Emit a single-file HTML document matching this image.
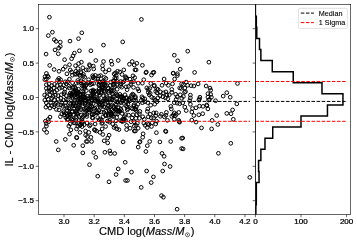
<!DOCTYPE html>
<html><head><meta charset="utf-8"><style>
html,body{margin:0;padding:0;background:#fff;}
svg{display:block;will-change:transform;}
text{font-family:"Liberation Sans",sans-serif;}
.lab{stroke:#000;stroke-width:0.15;}
</style></head><body>
<svg width="357" height="243" viewBox="0 0 357 243">
<rect width="357" height="243" fill="#fff"/>
<defs><clipPath id="cm"><rect x="38.5" y="4.5" width="216.9" height="209.9"/></clipPath>
<clipPath id="ch"><rect x="255.4" y="4.5" width="95.29999999999998" height="209.9"/></clipPath></defs>
<g clip-path="url(#cm)" fill="none" stroke="#000" stroke-width="1.0"><circle cx="49.4" cy="17.2" r="1.85"/><circle cx="52.4" cy="32.2" r="1.85"/><circle cx="48.3" cy="35.6" r="1.85"/><circle cx="54.3" cy="39.6" r="1.85"/><circle cx="56.1" cy="41.4" r="1.85"/><circle cx="60.3" cy="42.1" r="1.85"/><circle cx="70.0" cy="41.1" r="1.85"/><circle cx="78.5" cy="38.7" r="1.85"/><circle cx="81.8" cy="32.8" r="1.85"/><circle cx="60.3" cy="46.4" r="1.85"/><circle cx="58.7" cy="48.1" r="1.85"/><circle cx="55.0" cy="49.9" r="1.85"/><circle cx="79.4" cy="50.8" r="1.85"/><circle cx="90.9" cy="50.8" r="1.85"/><circle cx="141.4" cy="19.4" r="1.85"/><circle cx="122.7" cy="41.9" r="1.85"/><circle cx="103.5" cy="45.1" r="1.85"/><circle cx="187.7" cy="51.2" r="1.85"/><circle cx="46.1" cy="54.1" r="1.85"/><circle cx="58.3" cy="53.8" r="1.85"/><circle cx="64.6" cy="59.7" r="1.85"/><circle cx="71.6" cy="58.7" r="1.85"/><circle cx="73.0" cy="55.9" r="1.85"/><circle cx="74.4" cy="53.1" r="1.85"/><circle cx="69.5" cy="64.7" r="1.85"/><circle cx="65.3" cy="66.7" r="1.85"/><circle cx="63.2" cy="69.2" r="1.85"/><circle cx="59.0" cy="71.3" r="1.85"/><circle cx="54.1" cy="69.5" r="1.85"/><circle cx="46.4" cy="73.4" r="1.85"/><circle cx="70.2" cy="69.9" r="1.85"/><circle cx="75.5" cy="65.7" r="1.85"/><circle cx="78.6" cy="63.6" r="1.85"/><circle cx="81.4" cy="62.2" r="1.85"/><circle cx="77.9" cy="68.5" r="1.85"/><circle cx="82.8" cy="67.8" r="1.85"/><circle cx="86.3" cy="69.9" r="1.85"/><circle cx="71.6" cy="72.0" r="1.85"/><circle cx="75.8" cy="71.3" r="1.85"/><circle cx="95.8" cy="60.5" r="1.85"/><circle cx="103.5" cy="61.5" r="1.85"/><circle cx="111.2" cy="61.1" r="1.85"/><circle cx="111.9" cy="64.3" r="1.85"/><circle cx="118.2" cy="60.5" r="1.85"/><circle cx="89.9" cy="65.7" r="1.85"/><circle cx="93.3" cy="66.1" r="1.85"/><circle cx="93.7" cy="68.9" r="1.85"/><circle cx="88.5" cy="69.9" r="1.85"/><circle cx="102.5" cy="65.7" r="1.85"/><circle cx="102.8" cy="69.2" r="1.85"/><circle cx="129.4" cy="64.3" r="1.85"/><circle cx="132.2" cy="61.5" r="1.85"/><circle cx="134.3" cy="65.0" r="1.85"/><circle cx="109.1" cy="69.9" r="1.85"/><circle cx="117.5" cy="71.3" r="1.85"/><circle cx="123.8" cy="69.9" r="1.85"/><circle cx="135.0" cy="69.9" r="1.85"/><circle cx="174.3" cy="55.2" r="1.85"/><circle cx="177.7" cy="60.8" r="1.85"/><circle cx="180.2" cy="69.2" r="1.85"/><circle cx="173.2" cy="73.1" r="1.85"/><circle cx="136.8" cy="63.3" r="1.85"/><circle cx="142.4" cy="65.3" r="1.85"/><circle cx="136.1" cy="69.9" r="1.85"/><circle cx="146.3" cy="72.0" r="1.85"/><circle cx="153.9" cy="72.3" r="1.85"/><circle cx="177.4" cy="73.7" r="1.85"/><circle cx="208.9" cy="62.2" r="1.85"/><circle cx="194.6" cy="72.4" r="1.85"/><circle cx="186.2" cy="82.1" r="1.85"/><circle cx="183.4" cy="84.6" r="1.85"/><circle cx="187.6" cy="85.3" r="1.85"/><circle cx="184.8" cy="88.1" r="1.85"/><circle cx="185.5" cy="91.6" r="1.85"/><circle cx="184.5" cy="92.3" r="1.85"/><circle cx="193.9" cy="86.0" r="1.85"/><circle cx="198.1" cy="83.9" r="1.85"/><circle cx="191.1" cy="85.7" r="1.85"/><circle cx="206.1" cy="86.0" r="1.85"/><circle cx="210.0" cy="88.1" r="1.85"/><circle cx="210.7" cy="90.2" r="1.85"/><circle cx="207.9" cy="93.7" r="1.85"/><circle cx="210.7" cy="94.4" r="1.85"/><circle cx="207.9" cy="97.2" r="1.85"/><circle cx="211.4" cy="97.2" r="1.85"/><circle cx="190.4" cy="95.1" r="1.85"/><circle cx="190.4" cy="97.9" r="1.85"/><circle cx="199.9" cy="97.2" r="1.85"/><circle cx="199.5" cy="98.9" r="1.85"/><circle cx="215.6" cy="100.7" r="1.85"/><circle cx="226.8" cy="92.7" r="1.85"/><circle cx="223.2" cy="96.1" r="1.85"/><circle cx="230.2" cy="97.2" r="1.85"/><circle cx="183.4" cy="96.5" r="1.85"/><circle cx="237.5" cy="83.5" r="1.85"/><circle cx="189.7" cy="100.8" r="1.85"/><circle cx="198.8" cy="100.1" r="1.85"/><circle cx="208.6" cy="100.1" r="1.85"/><circle cx="182.7" cy="102.9" r="1.85"/><circle cx="184.8" cy="107.1" r="1.85"/><circle cx="186.2" cy="110.6" r="1.85"/><circle cx="192.5" cy="108.5" r="1.85"/><circle cx="196.0" cy="107.8" r="1.85"/><circle cx="191.8" cy="112.0" r="1.85"/><circle cx="193.9" cy="115.5" r="1.85"/><circle cx="198.8" cy="114.8" r="1.85"/><circle cx="202.7" cy="113.7" r="1.85"/><circle cx="203.0" cy="106.4" r="1.85"/><circle cx="206.9" cy="105.7" r="1.85"/><circle cx="207.9" cy="108.9" r="1.85"/><circle cx="199.5" cy="106.1" r="1.85"/><circle cx="190.4" cy="104.3" r="1.85"/><circle cx="216.7" cy="115.5" r="1.85"/><circle cx="226.8" cy="113.4" r="1.85"/><circle cx="231.0" cy="113.7" r="1.85"/><circle cx="191.8" cy="120.1" r="1.85"/><circle cx="196.0" cy="122.1" r="1.85"/><circle cx="212.1" cy="120.4" r="1.85"/><circle cx="217.8" cy="124.5" r="1.85"/><circle cx="201.5" cy="127.9" r="1.85"/><circle cx="211.6" cy="128.9" r="1.85"/><circle cx="236.8" cy="103.9" r="1.85"/><circle cx="232.6" cy="109.9" r="1.85"/><circle cx="233.3" cy="119.3" r="1.85"/><circle cx="206.7" cy="105.0" r="1.85"/><circle cx="209.5" cy="99.4" r="1.85"/><circle cx="182.7" cy="138.0" r="1.85"/><circle cx="183.1" cy="148.9" r="1.85"/><circle cx="230.8" cy="143.3" r="1.85"/><circle cx="218.4" cy="153.3" r="1.85"/><circle cx="249.8" cy="177.4" r="1.85"/><circle cx="46.4" cy="126.1" r="1.85"/><circle cx="44.3" cy="129.6" r="1.85"/><circle cx="46.7" cy="132.4" r="1.85"/><circle cx="68.8" cy="126.1" r="1.85"/><circle cx="70.9" cy="129.9" r="1.85"/><circle cx="69.5" cy="134.1" r="1.85"/><circle cx="65.3" cy="139.4" r="1.85"/><circle cx="56.2" cy="141.5" r="1.85"/><circle cx="58.3" cy="149.9" r="1.85"/><circle cx="73.7" cy="145.3" r="1.85"/><circle cx="76.5" cy="137.3" r="1.85"/><circle cx="76.8" cy="137.8" r="1.85"/><circle cx="76.5" cy="128.9" r="1.85"/><circle cx="80.0" cy="132.4" r="1.85"/><circle cx="80.0" cy="125.4" r="1.85"/><circle cx="84.2" cy="124.7" r="1.85"/><circle cx="85.6" cy="131.0" r="1.85"/><circle cx="85.6" cy="135.2" r="1.85"/><circle cx="86.3" cy="141.5" r="1.85"/><circle cx="82.8" cy="145.7" r="1.85"/><circle cx="82.8" cy="152.9" r="1.85"/><circle cx="70.2" cy="124.0" r="1.85"/><circle cx="94.4" cy="129.6" r="1.85"/><circle cx="94.9" cy="130.2" r="1.85"/><circle cx="96.5" cy="131.0" r="1.85"/><circle cx="100.0" cy="132.4" r="1.85"/><circle cx="102.1" cy="128.9" r="1.85"/><circle cx="105.6" cy="126.5" r="1.85"/><circle cx="102.8" cy="134.5" r="1.85"/><circle cx="88.8" cy="132.4" r="1.85"/><circle cx="90.9" cy="137.3" r="1.85"/><circle cx="91.6" cy="141.5" r="1.85"/><circle cx="87.4" cy="136.6" r="1.85"/><circle cx="87.4" cy="141.5" r="1.85"/><circle cx="109.1" cy="135.2" r="1.85"/><circle cx="107.7" cy="138.0" r="1.85"/><circle cx="104.2" cy="140.8" r="1.85"/><circle cx="107.7" cy="142.9" r="1.85"/><circle cx="114.0" cy="127.5" r="1.85"/><circle cx="116.8" cy="128.9" r="1.85"/><circle cx="118.9" cy="129.6" r="1.85"/><circle cx="115.4" cy="126.1" r="1.85"/><circle cx="123.1" cy="141.9" r="1.85"/><circle cx="126.6" cy="125.4" r="1.85"/><circle cx="126.6" cy="129.6" r="1.85"/><circle cx="130.1" cy="128.2" r="1.85"/><circle cx="134.3" cy="126.1" r="1.85"/><circle cx="134.3" cy="131.0" r="1.85"/><circle cx="95.1" cy="124.0" r="1.85"/><circle cx="136.1" cy="125.4" r="1.85"/><circle cx="138.2" cy="128.2" r="1.85"/><circle cx="135.4" cy="131.0" r="1.85"/><circle cx="145.2" cy="125.4" r="1.85"/><circle cx="147.3" cy="127.5" r="1.85"/><circle cx="151.5" cy="126.5" r="1.85"/><circle cx="148.7" cy="124.7" r="1.85"/><circle cx="155.7" cy="124.0" r="1.85"/><circle cx="143.1" cy="133.8" r="1.85"/><circle cx="142.7" cy="137.3" r="1.85"/><circle cx="139.6" cy="142.2" r="1.85"/><circle cx="140.1" cy="141.6" r="1.85"/><circle cx="138.2" cy="147.1" r="1.85"/><circle cx="147.3" cy="145.7" r="1.85"/><circle cx="149.7" cy="141.5" r="1.85"/><circle cx="156.4" cy="132.7" r="1.85"/><circle cx="165.5" cy="131.0" r="1.85"/><circle cx="165.9" cy="131.6" r="1.85"/><circle cx="159.9" cy="141.9" r="1.85"/><circle cx="170.7" cy="141.5" r="1.85"/><circle cx="181.6" cy="138.3" r="1.85"/><circle cx="181.6" cy="148.5" r="1.85"/><circle cx="93.7" cy="152.5" r="1.85"/><circle cx="104.9" cy="152.3" r="1.85"/><circle cx="109.8" cy="150.9" r="1.85"/><circle cx="114.7" cy="153.5" r="1.85"/><circle cx="95.8" cy="157.3" r="1.85"/><circle cx="89.5" cy="164.7" r="1.85"/><circle cx="110.5" cy="153.5" r="1.85"/><circle cx="125.2" cy="162.3" r="1.85"/><circle cx="118.2" cy="168.9" r="1.85"/><circle cx="116.1" cy="174.5" r="1.85"/><circle cx="97.7" cy="176.2" r="1.85"/><circle cx="131.5" cy="172.1" r="1.85"/><circle cx="125.6" cy="180.5" r="1.85"/><circle cx="127.4" cy="180.5" r="1.85"/><circle cx="145.9" cy="151.5" r="1.85"/><circle cx="162.0" cy="153.4" r="1.85"/><circle cx="164.1" cy="156.3" r="1.85"/><circle cx="164.5" cy="164.0" r="1.85"/><circle cx="170.1" cy="166.5" r="1.85"/><circle cx="146.6" cy="171.0" r="1.85"/><circle cx="162.7" cy="171.0" r="1.85"/><circle cx="153.4" cy="176.9" r="1.85"/><circle cx="109.0" cy="181.8" r="1.85"/><circle cx="141.2" cy="187.4" r="1.85"/><circle cx="151.2" cy="182.6" r="1.85"/><circle cx="161.5" cy="195.6" r="1.85"/><circle cx="163.4" cy="197.2" r="1.85"/><circle cx="177.1" cy="209.2" r="1.85"/><circle cx="145.9" cy="72.7" r="1.85"/><circle cx="151.5" cy="75.1" r="1.85"/><circle cx="152.9" cy="72.7" r="1.85"/><circle cx="173.2" cy="73.4" r="1.85"/><circle cx="177.4" cy="75.5" r="1.85"/><circle cx="174.6" cy="79.0" r="1.85"/><circle cx="164.1" cy="79.0" r="1.85"/><circle cx="134.7" cy="77.6" r="1.85"/><circle cx="143.8" cy="79.7" r="1.85"/><circle cx="142.4" cy="83.2" r="1.85"/><circle cx="138.2" cy="83.2" r="1.85"/><circle cx="150.8" cy="83.5" r="1.85"/><circle cx="154.3" cy="85.3" r="1.85"/><circle cx="162.0" cy="85.3" r="1.85"/><circle cx="166.2" cy="83.2" r="1.85"/><circle cx="168.3" cy="85.3" r="1.85"/><circle cx="172.5" cy="83.9" r="1.85"/><circle cx="181.6" cy="83.9" r="1.85"/><circle cx="133.5" cy="87.4" r="1.85"/><circle cx="137.9" cy="88.9" r="1.85"/><circle cx="138.9" cy="90.9" r="1.85"/><circle cx="146.8" cy="87.9" r="1.85"/><circle cx="148.3" cy="89.4" r="1.85"/><circle cx="149.8" cy="88.4" r="1.85"/><circle cx="148.3" cy="92.4" r="1.85"/><circle cx="150.2" cy="93.3" r="1.85"/><circle cx="149.3" cy="94.8" r="1.85"/><circle cx="154.2" cy="86.0" r="1.85"/><circle cx="156.7" cy="88.9" r="1.85"/><circle cx="155.7" cy="91.4" r="1.85"/><circle cx="133.5" cy="94.8" r="1.85"/><circle cx="134.0" cy="100.2" r="1.85"/><circle cx="141.9" cy="96.8" r="1.85"/><circle cx="142.8" cy="98.3" r="1.85"/><circle cx="144.8" cy="98.8" r="1.85"/><circle cx="141.4" cy="100.2" r="1.85"/><circle cx="142.4" cy="102.7" r="1.85"/><circle cx="144.8" cy="101.7" r="1.85"/><circle cx="147.8" cy="102.7" r="1.85"/><circle cx="151.7" cy="97.3" r="1.85"/><circle cx="153.7" cy="98.3" r="1.85"/><circle cx="155.2" cy="100.2" r="1.85"/><circle cx="137.9" cy="104.2" r="1.85"/><circle cx="134.0" cy="104.7" r="1.85"/><circle cx="150.7" cy="105.2" r="1.85"/><circle cx="154.7" cy="104.2" r="1.85"/><circle cx="181.2" cy="88.4" r="1.85"/><circle cx="171.8" cy="89.4" r="1.85"/><circle cx="171.8" cy="92.4" r="1.85"/><circle cx="169.3" cy="94.8" r="1.85"/><circle cx="165.9" cy="91.9" r="1.85"/><circle cx="166.9" cy="94.8" r="1.85"/><circle cx="163.4" cy="92.9" r="1.85"/><circle cx="160.4" cy="91.9" r="1.85"/><circle cx="158.0" cy="89.4" r="1.85"/><circle cx="157.0" cy="92.9" r="1.85"/><circle cx="160.0" cy="95.8" r="1.85"/><circle cx="158.0" cy="97.8" r="1.85"/><circle cx="162.9" cy="96.8" r="1.85"/><circle cx="165.4" cy="97.8" r="1.85"/><circle cx="167.8" cy="98.8" r="1.85"/><circle cx="175.7" cy="94.3" r="1.85"/><circle cx="177.2" cy="96.8" r="1.85"/><circle cx="180.2" cy="94.8" r="1.85"/><circle cx="176.2" cy="99.3" r="1.85"/><circle cx="181.7" cy="98.3" r="1.85"/><circle cx="174.3" cy="102.7" r="1.85"/><circle cx="177.2" cy="103.2" r="1.85"/><circle cx="179.7" cy="103.7" r="1.85"/><circle cx="157.0" cy="101.7" r="1.85"/><circle cx="179.7" cy="87.9" r="1.85"/><circle cx="133.9" cy="106.0" r="1.85"/><circle cx="131.5" cy="107.9" r="1.85"/><circle cx="134.9" cy="109.4" r="1.85"/><circle cx="147.8" cy="108.9" r="1.85"/><circle cx="147.3" cy="111.4" r="1.85"/><circle cx="139.9" cy="111.4" r="1.85"/><circle cx="139.4" cy="113.8" r="1.85"/><circle cx="136.9" cy="114.8" r="1.85"/><circle cx="133.0" cy="114.8" r="1.85"/><circle cx="132.0" cy="117.8" r="1.85"/><circle cx="135.9" cy="118.3" r="1.85"/><circle cx="139.4" cy="118.3" r="1.85"/><circle cx="142.8" cy="116.8" r="1.85"/><circle cx="144.3" cy="119.3" r="1.85"/><circle cx="148.3" cy="116.8" r="1.85"/><circle cx="150.2" cy="114.3" r="1.85"/><circle cx="153.7" cy="112.9" r="1.85"/><circle cx="156.2" cy="112.9" r="1.85"/><circle cx="151.2" cy="117.8" r="1.85"/><circle cx="153.7" cy="117.8" r="1.85"/><circle cx="155.7" cy="115.8" r="1.85"/><circle cx="156.7" cy="121.2" r="1.85"/><circle cx="152.2" cy="122.7" r="1.85"/><circle cx="147.8" cy="123.7" r="1.85"/><circle cx="143.8" cy="123.2" r="1.85"/><circle cx="137.4" cy="123.2" r="1.85"/><circle cx="134.0" cy="121.7" r="1.85"/><circle cx="131.0" cy="121.7" r="1.85"/><circle cx="170.8" cy="106.4" r="1.85"/><circle cx="171.3" cy="108.9" r="1.85"/><circle cx="178.7" cy="112.4" r="1.85"/><circle cx="174.3" cy="112.9" r="1.85"/><circle cx="173.3" cy="114.8" r="1.85"/><circle cx="171.8" cy="116.3" r="1.85"/><circle cx="175.2" cy="115.8" r="1.85"/><circle cx="176.2" cy="114.3" r="1.85"/><circle cx="166.4" cy="112.4" r="1.85"/><circle cx="165.9" cy="115.3" r="1.85"/><circle cx="164.4" cy="116.8" r="1.85"/><circle cx="161.4" cy="114.3" r="1.85"/><circle cx="160.4" cy="116.3" r="1.85"/><circle cx="178.7" cy="120.3" r="1.85"/><circle cx="179.2" cy="121.7" r="1.85"/><circle cx="179.6" cy="122.2" r="1.85"/><circle cx="167.4" cy="120.3" r="1.85"/><circle cx="174.3" cy="119.3" r="1.85"/><circle cx="47.6" cy="75.9" r="1.85"/><circle cx="45.0" cy="76.7" r="1.85"/><circle cx="48.4" cy="77.1" r="1.85"/><circle cx="44.8" cy="79.7" r="1.85"/><circle cx="46.3" cy="79.2" r="1.85"/><circle cx="58.9" cy="78.4" r="1.85"/><circle cx="57.6" cy="80.1" r="1.85"/><circle cx="60.6" cy="79.7" r="1.85"/><circle cx="59.3" cy="81.8" r="1.85"/><circle cx="65.2" cy="81.8" r="1.85"/><circle cx="67.7" cy="81.8" r="1.85"/><circle cx="69.4" cy="79.2" r="1.85"/><circle cx="66.9" cy="73.8" r="1.85"/><circle cx="46.3" cy="84.7" r="1.85"/><circle cx="49.0" cy="83.8" r="1.85"/><circle cx="51.8" cy="85.6" r="1.85"/><circle cx="54.5" cy="84.3" r="1.85"/><circle cx="57.2" cy="85.6" r="1.85"/><circle cx="60.4" cy="84.7" r="1.85"/><circle cx="63.6" cy="85.2" r="1.85"/><circle cx="66.3" cy="83.8" r="1.85"/><circle cx="46.3" cy="88.3" r="1.85"/><circle cx="49.0" cy="87.9" r="1.85"/><circle cx="50.9" cy="89.2" r="1.85"/><circle cx="53.6" cy="87.9" r="1.85"/><circle cx="56.8" cy="90.2" r="1.85"/><circle cx="59.5" cy="88.3" r="1.85"/><circle cx="61.7" cy="87.4" r="1.85"/><circle cx="64.9" cy="89.2" r="1.85"/><circle cx="47.2" cy="91.5" r="1.85"/><circle cx="49.5" cy="91.1" r="1.85"/><circle cx="51.8" cy="92.4" r="1.85"/><circle cx="54.5" cy="92.0" r="1.85"/><circle cx="64.5" cy="92.0" r="1.85"/><circle cx="44.6" cy="95.1" r="1.85"/><circle cx="46.8" cy="96.5" r="1.85"/><circle cx="50.0" cy="94.7" r="1.85"/><circle cx="53.1" cy="96.5" r="1.85"/><circle cx="55.4" cy="95.1" r="1.85"/><circle cx="58.1" cy="95.6" r="1.85"/><circle cx="61.3" cy="94.7" r="1.85"/><circle cx="64.0" cy="93.8" r="1.85"/><circle cx="66.3" cy="95.6" r="1.85"/><circle cx="44.8" cy="100.1" r="1.85"/><circle cx="48.2" cy="99.2" r="1.85"/><circle cx="51.8" cy="98.3" r="1.85"/><circle cx="54.5" cy="100.1" r="1.85"/><circle cx="58.1" cy="99.2" r="1.85"/><circle cx="60.8" cy="98.3" r="1.85"/><circle cx="63.6" cy="100.1" r="1.85"/><circle cx="66.3" cy="99.2" r="1.85"/><circle cx="46.3" cy="102.8" r="1.85"/><circle cx="50.9" cy="102.4" r="1.85"/><circle cx="56.3" cy="102.8" r="1.85"/><circle cx="61.7" cy="102.4" r="1.85"/><circle cx="65.4" cy="102.8" r="1.85"/><circle cx="45.9" cy="107.2" r="1.85"/><circle cx="48.2" cy="105.4" r="1.85"/><circle cx="50.0" cy="108.1" r="1.85"/><circle cx="51.8" cy="105.8" r="1.85"/><circle cx="54.0" cy="106.7" r="1.85"/><circle cx="56.3" cy="109.4" r="1.85"/><circle cx="59.0" cy="109.9" r="1.85"/><circle cx="55.0" cy="104.5" r="1.85"/><circle cx="58.1" cy="104.5" r="1.85"/><circle cx="60.8" cy="104.9" r="1.85"/><circle cx="62.7" cy="106.3" r="1.85"/><circle cx="65.4" cy="105.8" r="1.85"/><circle cx="67.2" cy="107.6" r="1.85"/><circle cx="60.4" cy="116.7" r="1.85"/><circle cx="61.8" cy="114.0" r="1.85"/><circle cx="64.0" cy="112.6" r="1.85"/><circle cx="64.5" cy="114.9" r="1.85"/><circle cx="66.3" cy="113.1" r="1.85"/><circle cx="67.2" cy="116.2" r="1.85"/><circle cx="65.8" cy="117.6" r="1.85"/><circle cx="67.2" cy="119.4" r="1.85"/><circle cx="63.6" cy="110.8" r="1.85"/><circle cx="67.2" cy="110.8" r="1.85"/><circle cx="50.0" cy="117.1" r="1.85"/><circle cx="48.2" cy="119.4" r="1.85"/><circle cx="45.4" cy="121.2" r="1.85"/><circle cx="48.6" cy="121.7" r="1.85"/><circle cx="46.3" cy="123.5" r="1.85"/><circle cx="89.4" cy="64.7" r="1.85"/><circle cx="49.7" cy="65.4" r="1.85"/><circle cx="103.3" cy="80.9" r="1.85"/><circle cx="131.4" cy="82.2" r="1.85"/><circle cx="133.0" cy="75.8" r="1.85"/><circle cx="125.6" cy="76.7" r="1.85"/><circle cx="117.2" cy="81.4" r="1.85"/><circle cx="123.9" cy="81.4" r="1.85"/><circle cx="126.8" cy="78.1" r="1.85"/><circle cx="97.9" cy="79.1" r="1.85"/><circle cx="98.6" cy="81.4" r="1.85"/><circle cx="120.6" cy="81.5" r="1.85"/><circle cx="83.1" cy="76.3" r="1.85"/><circle cx="76.6" cy="74.3" r="1.85"/><circle cx="80.9" cy="71.7" r="1.85"/><circle cx="122.9" cy="82.3" r="1.85"/><circle cx="130.0" cy="79.2" r="1.85"/><circle cx="98.8" cy="76.1" r="1.85"/><circle cx="94.9" cy="78.5" r="1.85"/><circle cx="92.6" cy="75.7" r="1.85"/><circle cx="81.2" cy="80.9" r="1.85"/><circle cx="119.7" cy="72.0" r="1.85"/><circle cx="95.3" cy="75.4" r="1.85"/><circle cx="116.2" cy="75.6" r="1.85"/><circle cx="83.2" cy="82.3" r="1.85"/><circle cx="75.0" cy="74.2" r="1.85"/><circle cx="100.1" cy="82.2" r="1.85"/><circle cx="93.0" cy="77.8" r="1.85"/><circle cx="79.4" cy="74.9" r="1.85"/><circle cx="80.4" cy="76.3" r="1.85"/><circle cx="93.5" cy="76.8" r="1.85"/><circle cx="102.8" cy="81.9" r="1.85"/><circle cx="116.3" cy="77.9" r="1.85"/><circle cx="122.1" cy="74.5" r="1.85"/><circle cx="114.8" cy="77.9" r="1.85"/><circle cx="105.9" cy="78.5" r="1.85"/><circle cx="110.7" cy="82.1" r="1.85"/><circle cx="77.8" cy="80.4" r="1.85"/><circle cx="104.3" cy="77.4" r="1.85"/><circle cx="88.6" cy="79.7" r="1.85"/><circle cx="105.5" cy="71.9" r="1.85"/><circle cx="115.4" cy="72.9" r="1.85"/><circle cx="77.5" cy="72.9" r="1.85"/><circle cx="72.4" cy="75.2" r="1.85"/><circle cx="84.7" cy="77.2" r="1.85"/><circle cx="113.1" cy="81.0" r="1.85"/><circle cx="100.6" cy="75.6" r="1.85"/><circle cx="83.5" cy="74.4" r="1.85"/><circle cx="78.4" cy="82.4" r="1.85"/><circle cx="114.1" cy="73.9" r="1.85"/><circle cx="81.1" cy="72.7" r="1.85"/><circle cx="125.6" cy="77.6" r="1.85"/><circle cx="89.7" cy="82.6" r="1.85"/><circle cx="133.6" cy="81.6" r="1.85"/><circle cx="114.4" cy="81.0" r="1.85"/><circle cx="76.3" cy="83.1" r="1.85"/><circle cx="112.3" cy="91.1" r="1.85"/><circle cx="81.3" cy="90.9" r="1.85"/><circle cx="110.8" cy="90.4" r="1.85"/><circle cx="84.8" cy="88.5" r="1.85"/><circle cx="108.1" cy="87.8" r="1.85"/><circle cx="86.3" cy="84.4" r="1.85"/><circle cx="84.6" cy="86.9" r="1.85"/><circle cx="126.1" cy="86.8" r="1.85"/><circle cx="85.7" cy="85.7" r="1.85"/><circle cx="121.7" cy="87.2" r="1.85"/><circle cx="73.3" cy="92.8" r="1.85"/><circle cx="91.9" cy="83.8" r="1.85"/><circle cx="101.8" cy="88.6" r="1.85"/><circle cx="82.0" cy="85.6" r="1.85"/><circle cx="117.1" cy="89.3" r="1.85"/><circle cx="110.3" cy="85.4" r="1.85"/><circle cx="113.5" cy="90.3" r="1.85"/><circle cx="75.2" cy="91.2" r="1.85"/><circle cx="113.2" cy="84.9" r="1.85"/><circle cx="99.0" cy="84.4" r="1.85"/><circle cx="99.0" cy="92.8" r="1.85"/><circle cx="70.2" cy="93.2" r="1.85"/><circle cx="90.4" cy="84.7" r="1.85"/><circle cx="93.2" cy="93.4" r="1.85"/><circle cx="73.2" cy="91.9" r="1.85"/><circle cx="101.4" cy="91.8" r="1.85"/><circle cx="76.9" cy="93.4" r="1.85"/><circle cx="104.0" cy="91.0" r="1.85"/><circle cx="128.6" cy="86.4" r="1.85"/><circle cx="106.4" cy="85.4" r="1.85"/><circle cx="96.2" cy="91.0" r="1.85"/><circle cx="78.5" cy="89.2" r="1.85"/><circle cx="127.1" cy="89.7" r="1.85"/><circle cx="99.2" cy="88.9" r="1.85"/><circle cx="83.7" cy="86.3" r="1.85"/><circle cx="102.2" cy="86.8" r="1.85"/><circle cx="72.7" cy="87.9" r="1.85"/><circle cx="120.9" cy="83.8" r="1.85"/><circle cx="114.4" cy="84.4" r="1.85"/><circle cx="111.4" cy="89.7" r="1.85"/><circle cx="74.7" cy="87.2" r="1.85"/><circle cx="105.2" cy="83.1" r="1.85"/><circle cx="77.1" cy="91.3" r="1.85"/><circle cx="69.4" cy="88.0" r="1.85"/><circle cx="104.1" cy="83.8" r="1.85"/><circle cx="93.1" cy="91.2" r="1.85"/><circle cx="82.6" cy="91.8" r="1.85"/><circle cx="114.6" cy="86.3" r="1.85"/><circle cx="87.8" cy="82.8" r="1.85"/><circle cx="81.1" cy="82.9" r="1.85"/><circle cx="93.0" cy="90.0" r="1.85"/><circle cx="100.7" cy="85.4" r="1.85"/><circle cx="68.7" cy="86.2" r="1.85"/><circle cx="108.9" cy="91.0" r="1.85"/><circle cx="91.0" cy="91.1" r="1.85"/><circle cx="104.9" cy="91.5" r="1.85"/><circle cx="77.6" cy="92.9" r="1.85"/><circle cx="130.7" cy="84.4" r="1.85"/><circle cx="94.8" cy="91.9" r="1.85"/><circle cx="103.2" cy="83.0" r="1.85"/><circle cx="101.7" cy="87.6" r="1.85"/><circle cx="72.5" cy="82.8" r="1.85"/><circle cx="92.6" cy="92.0" r="1.85"/><circle cx="83.8" cy="85.2" r="1.85"/><circle cx="108.3" cy="88.7" r="1.85"/><circle cx="108.5" cy="92.6" r="1.85"/><circle cx="86.3" cy="90.6" r="1.85"/><circle cx="116.8" cy="84.6" r="1.85"/><circle cx="104.7" cy="85.0" r="1.85"/><circle cx="73.1" cy="87.1" r="1.85"/><circle cx="104.1" cy="89.2" r="1.85"/><circle cx="76.2" cy="90.8" r="1.85"/><circle cx="103.2" cy="87.8" r="1.85"/><circle cx="112.3" cy="93.6" r="1.85"/><circle cx="101.3" cy="93.3" r="1.85"/><circle cx="98.9" cy="91.3" r="1.85"/><circle cx="93.7" cy="83.4" r="1.85"/><circle cx="75.6" cy="88.6" r="1.85"/><circle cx="98.8" cy="85.2" r="1.85"/><circle cx="120.4" cy="85.8" r="1.85"/><circle cx="103.5" cy="95.9" r="1.85"/><circle cx="83.4" cy="96.5" r="1.85"/><circle cx="103.8" cy="100.9" r="1.85"/><circle cx="135.4" cy="96.6" r="1.85"/><circle cx="76.9" cy="102.4" r="1.85"/><circle cx="118.0" cy="102.0" r="1.85"/><circle cx="121.4" cy="96.7" r="1.85"/><circle cx="112.8" cy="94.4" r="1.85"/><circle cx="112.6" cy="99.3" r="1.85"/><circle cx="122.4" cy="101.2" r="1.85"/><circle cx="102.5" cy="104.5" r="1.85"/><circle cx="132.6" cy="94.1" r="1.85"/><circle cx="131.1" cy="97.6" r="1.85"/><circle cx="110.2" cy="99.6" r="1.85"/><circle cx="104.8" cy="98.5" r="1.85"/><circle cx="85.1" cy="103.0" r="1.85"/><circle cx="82.1" cy="99.4" r="1.85"/><circle cx="85.9" cy="100.3" r="1.85"/><circle cx="120.0" cy="94.4" r="1.85"/><circle cx="70.8" cy="104.0" r="1.85"/><circle cx="129.9" cy="100.8" r="1.85"/><circle cx="107.9" cy="102.3" r="1.85"/><circle cx="135.3" cy="97.9" r="1.85"/><circle cx="122.4" cy="96.7" r="1.85"/><circle cx="88.6" cy="98.6" r="1.85"/><circle cx="98.1" cy="100.4" r="1.85"/><circle cx="110.3" cy="98.4" r="1.85"/><circle cx="73.9" cy="95.5" r="1.85"/><circle cx="79.7" cy="104.5" r="1.85"/><circle cx="105.3" cy="101.3" r="1.85"/><circle cx="94.8" cy="101.0" r="1.85"/><circle cx="97.9" cy="102.5" r="1.85"/><circle cx="87.2" cy="98.6" r="1.85"/><circle cx="80.9" cy="98.5" r="1.85"/><circle cx="82.4" cy="103.2" r="1.85"/><circle cx="121.2" cy="102.6" r="1.85"/><circle cx="79.8" cy="102.1" r="1.85"/><circle cx="76.8" cy="100.2" r="1.85"/><circle cx="116.8" cy="99.1" r="1.85"/><circle cx="71.1" cy="95.8" r="1.85"/><circle cx="122.7" cy="98.3" r="1.85"/><circle cx="116.4" cy="94.0" r="1.85"/><circle cx="80.7" cy="102.4" r="1.85"/><circle cx="79.7" cy="94.2" r="1.85"/><circle cx="99.5" cy="95.1" r="1.85"/><circle cx="106.6" cy="95.6" r="1.85"/><circle cx="75.2" cy="94.2" r="1.85"/><circle cx="126.4" cy="102.2" r="1.85"/><circle cx="80.1" cy="95.2" r="1.85"/><circle cx="77.5" cy="95.4" r="1.85"/><circle cx="107.1" cy="97.6" r="1.85"/><circle cx="131.5" cy="95.4" r="1.85"/><circle cx="90.8" cy="95.7" r="1.85"/><circle cx="84.1" cy="96.7" r="1.85"/><circle cx="84.6" cy="103.7" r="1.85"/><circle cx="85.2" cy="104.7" r="1.85"/><circle cx="91.7" cy="95.4" r="1.85"/><circle cx="117.4" cy="95.9" r="1.85"/><circle cx="74.7" cy="100.1" r="1.85"/><circle cx="113.1" cy="96.8" r="1.85"/><circle cx="72.5" cy="94.5" r="1.85"/><circle cx="90.9" cy="103.1" r="1.85"/><circle cx="95.9" cy="100.4" r="1.85"/><circle cx="106.2" cy="99.5" r="1.85"/><circle cx="71.5" cy="94.0" r="1.85"/><circle cx="116.9" cy="101.6" r="1.85"/><circle cx="98.3" cy="98.5" r="1.85"/><circle cx="99.3" cy="104.2" r="1.85"/><circle cx="77.8" cy="97.5" r="1.85"/><circle cx="103.0" cy="100.8" r="1.85"/><circle cx="129.0" cy="100.1" r="1.85"/><circle cx="129.4" cy="99.0" r="1.85"/><circle cx="93.3" cy="103.4" r="1.85"/><circle cx="91.2" cy="97.7" r="1.85"/><circle cx="110.3" cy="102.5" r="1.85"/><circle cx="97.1" cy="98.8" r="1.85"/><circle cx="85.1" cy="98.1" r="1.85"/><circle cx="89.1" cy="102.5" r="1.85"/><circle cx="125.0" cy="94.8" r="1.85"/><circle cx="72.8" cy="98.5" r="1.85"/><circle cx="126.9" cy="97.7" r="1.85"/><circle cx="117.2" cy="94.9" r="1.85"/><circle cx="122.2" cy="100.2" r="1.85"/><circle cx="111.9" cy="98.7" r="1.85"/><circle cx="92.0" cy="99.7" r="1.85"/><circle cx="88.6" cy="104.7" r="1.85"/><circle cx="101.5" cy="102.5" r="1.85"/><circle cx="125.7" cy="101.2" r="1.85"/><circle cx="121.1" cy="96.8" r="1.85"/><circle cx="124.1" cy="98.4" r="1.85"/><circle cx="68.1" cy="99.6" r="1.85"/><circle cx="93.5" cy="95.7" r="1.85"/><circle cx="128.0" cy="104.4" r="1.85"/><circle cx="78.2" cy="95.7" r="1.85"/><circle cx="84.8" cy="100.0" r="1.85"/><circle cx="93.1" cy="96.5" r="1.85"/><circle cx="77.3" cy="94.2" r="1.85"/><circle cx="73.3" cy="104.3" r="1.85"/><circle cx="125.9" cy="97.9" r="1.85"/><circle cx="73.9" cy="103.5" r="1.85"/><circle cx="119.6" cy="96.8" r="1.85"/><circle cx="135.6" cy="100.1" r="1.85"/><circle cx="89.0" cy="101.1" r="1.85"/><circle cx="94.6" cy="99.3" r="1.85"/><circle cx="87.6" cy="96.3" r="1.85"/><circle cx="83.6" cy="98.3" r="1.85"/><circle cx="82.8" cy="94.1" r="1.85"/><circle cx="93.2" cy="98.4" r="1.85"/><circle cx="78.9" cy="103.2" r="1.85"/><circle cx="69.7" cy="95.1" r="1.85"/><circle cx="97.2" cy="94.2" r="1.85"/><circle cx="69.4" cy="103.1" r="1.85"/><circle cx="79.8" cy="98.6" r="1.85"/><circle cx="84.2" cy="94.3" r="1.85"/><circle cx="99.0" cy="102.1" r="1.85"/><circle cx="115.4" cy="104.1" r="1.85"/><circle cx="80.7" cy="99.9" r="1.85"/><circle cx="72.4" cy="97.2" r="1.85"/><circle cx="115.9" cy="108.8" r="1.85"/><circle cx="108.4" cy="106.2" r="1.85"/><circle cx="73.1" cy="105.6" r="1.85"/><circle cx="89.4" cy="110.1" r="1.85"/><circle cx="112.2" cy="109.7" r="1.85"/><circle cx="79.3" cy="107.6" r="1.85"/><circle cx="70.2" cy="115.2" r="1.85"/><circle cx="70.1" cy="114.1" r="1.85"/><circle cx="120.8" cy="109.0" r="1.85"/><circle cx="113.7" cy="106.6" r="1.85"/><circle cx="105.9" cy="115.7" r="1.85"/><circle cx="105.4" cy="107.0" r="1.85"/><circle cx="136.1" cy="110.6" r="1.85"/><circle cx="105.3" cy="114.9" r="1.85"/><circle cx="105.9" cy="111.1" r="1.85"/><circle cx="85.6" cy="110.2" r="1.85"/><circle cx="92.1" cy="114.7" r="1.85"/><circle cx="136.0" cy="109.0" r="1.85"/><circle cx="117.9" cy="111.2" r="1.85"/><circle cx="69.5" cy="114.8" r="1.85"/><circle cx="118.0" cy="107.7" r="1.85"/><circle cx="75.9" cy="111.3" r="1.85"/><circle cx="126.0" cy="105.8" r="1.85"/><circle cx="68.2" cy="115.5" r="1.85"/><circle cx="77.3" cy="109.0" r="1.85"/><circle cx="74.0" cy="108.2" r="1.85"/><circle cx="96.2" cy="112.9" r="1.85"/><circle cx="84.7" cy="112.5" r="1.85"/><circle cx="91.9" cy="106.6" r="1.85"/><circle cx="110.4" cy="106.7" r="1.85"/><circle cx="90.1" cy="107.3" r="1.85"/><circle cx="109.3" cy="111.3" r="1.85"/><circle cx="113.8" cy="107.8" r="1.85"/><circle cx="122.1" cy="113.5" r="1.85"/><circle cx="94.8" cy="108.0" r="1.85"/><circle cx="132.5" cy="108.8" r="1.85"/><circle cx="78.2" cy="107.5" r="1.85"/><circle cx="86.3" cy="108.3" r="1.85"/><circle cx="69.3" cy="108.9" r="1.85"/><circle cx="72.2" cy="112.1" r="1.85"/><circle cx="101.9" cy="105.4" r="1.85"/><circle cx="113.0" cy="111.5" r="1.85"/><circle cx="119.1" cy="111.4" r="1.85"/><circle cx="127.8" cy="108.6" r="1.85"/><circle cx="87.3" cy="109.9" r="1.85"/><circle cx="110.4" cy="112.2" r="1.85"/><circle cx="92.2" cy="113.8" r="1.85"/><circle cx="101.3" cy="111.9" r="1.85"/><circle cx="80.8" cy="109.7" r="1.85"/><circle cx="111.7" cy="114.8" r="1.85"/><circle cx="127.3" cy="109.9" r="1.85"/><circle cx="73.6" cy="114.7" r="1.85"/><circle cx="77.0" cy="113.7" r="1.85"/><circle cx="103.8" cy="106.9" r="1.85"/><circle cx="93.5" cy="108.8" r="1.85"/><circle cx="69.0" cy="107.8" r="1.85"/><circle cx="115.0" cy="109.4" r="1.85"/><circle cx="119.8" cy="111.0" r="1.85"/><circle cx="88.6" cy="109.2" r="1.85"/><circle cx="128.7" cy="115.2" r="1.85"/><circle cx="96.7" cy="107.6" r="1.85"/><circle cx="89.4" cy="112.1" r="1.85"/><circle cx="99.0" cy="110.7" r="1.85"/><circle cx="81.2" cy="115.0" r="1.85"/><circle cx="116.8" cy="110.2" r="1.85"/><circle cx="117.6" cy="113.9" r="1.85"/><circle cx="93.9" cy="113.8" r="1.85"/><circle cx="110.8" cy="113.8" r="1.85"/><circle cx="72.3" cy="111.2" r="1.85"/><circle cx="78.0" cy="114.2" r="1.85"/><circle cx="97.9" cy="112.8" r="1.85"/><circle cx="90.1" cy="105.7" r="1.85"/><circle cx="108.5" cy="114.2" r="1.85"/><circle cx="115.4" cy="114.0" r="1.85"/><circle cx="100.1" cy="105.4" r="1.85"/><circle cx="75.1" cy="105.8" r="1.85"/><circle cx="111.4" cy="105.5" r="1.85"/><circle cx="125.4" cy="114.6" r="1.85"/><circle cx="116.3" cy="105.0" r="1.85"/><circle cx="80.8" cy="108.4" r="1.85"/><circle cx="121.5" cy="110.6" r="1.85"/><circle cx="86.7" cy="114.4" r="1.85"/><circle cx="108.8" cy="110.3" r="1.85"/><circle cx="121.5" cy="105.5" r="1.85"/><circle cx="127.1" cy="106.9" r="1.85"/><circle cx="73.2" cy="106.0" r="1.85"/><circle cx="76.7" cy="111.4" r="1.85"/><circle cx="97.1" cy="112.0" r="1.85"/><circle cx="104.0" cy="112.4" r="1.85"/><circle cx="84.8" cy="108.8" r="1.85"/><circle cx="90.6" cy="109.9" r="1.85"/><circle cx="69.3" cy="113.6" r="1.85"/><circle cx="108.4" cy="105.3" r="1.85"/><circle cx="136.3" cy="106.7" r="1.85"/><circle cx="118.7" cy="110.5" r="1.85"/><circle cx="100.4" cy="107.2" r="1.85"/><circle cx="112.1" cy="113.7" r="1.85"/><circle cx="76.3" cy="113.2" r="1.85"/><circle cx="84.9" cy="114.8" r="1.85"/><circle cx="78.5" cy="105.4" r="1.85"/><circle cx="108.5" cy="115.1" r="1.85"/><circle cx="101.6" cy="120.5" r="1.85"/><circle cx="92.2" cy="117.6" r="1.85"/><circle cx="90.4" cy="124.8" r="1.85"/><circle cx="76.6" cy="118.2" r="1.85"/><circle cx="112.7" cy="123.9" r="1.85"/><circle cx="112.2" cy="116.2" r="1.85"/><circle cx="102.5" cy="122.7" r="1.85"/><circle cx="74.1" cy="122.9" r="1.85"/><circle cx="82.0" cy="123.8" r="1.85"/><circle cx="82.1" cy="126.6" r="1.85"/><circle cx="79.2" cy="119.9" r="1.85"/><circle cx="113.5" cy="116.6" r="1.85"/><circle cx="121.7" cy="121.0" r="1.85"/><circle cx="89.5" cy="125.9" r="1.85"/><circle cx="124.4" cy="116.5" r="1.85"/><circle cx="124.2" cy="119.9" r="1.85"/><circle cx="68.1" cy="119.5" r="1.85"/><circle cx="71.8" cy="119.6" r="1.85"/><circle cx="81.5" cy="119.5" r="1.85"/><circle cx="109.6" cy="122.2" r="1.85"/><circle cx="82.6" cy="121.9" r="1.85"/><circle cx="80.5" cy="124.6" r="1.85"/><circle cx="123.0" cy="118.9" r="1.85"/><circle cx="120.5" cy="120.6" r="1.85"/><circle cx="87.0" cy="123.0" r="1.85"/><circle cx="99.1" cy="119.8" r="1.85"/><circle cx="92.9" cy="118.1" r="1.85"/><circle cx="116.7" cy="117.5" r="1.85"/><circle cx="101.7" cy="123.4" r="1.85"/><circle cx="124.0" cy="119.0" r="1.85"/><circle cx="82.6" cy="116.7" r="1.85"/><circle cx="82.3" cy="118.4" r="1.85"/><circle cx="75.6" cy="123.0" r="1.85"/><circle cx="103.2" cy="116.7" r="1.85"/><circle cx="125.5" cy="120.4" r="1.85"/><circle cx="75.8" cy="116.8" r="1.85"/><circle cx="107.4" cy="121.0" r="1.85"/><circle cx="100.3" cy="119.1" r="1.85"/><circle cx="116.0" cy="120.9" r="1.85"/><circle cx="71.7" cy="118.9" r="1.85"/><circle cx="86.8" cy="116.5" r="1.85"/><circle cx="122.5" cy="121.6" r="1.85"/><circle cx="97.7" cy="117.5" r="1.85"/><circle cx="108.7" cy="116.5" r="1.85"/><circle cx="73.0" cy="120.2" r="1.85"/><circle cx="109.7" cy="120.4" r="1.85"/><circle cx="77.7" cy="123.2" r="1.85"/><circle cx="77.8" cy="126.3" r="1.85"/></g>
<g stroke-width="1.0" stroke-dasharray="3.55 1.55" fill="none">
<line x1="44.55" y1="81.47" x2="250.0" y2="81.47" stroke="#f00"/>
<line x1="44.55" y1="121.30" x2="250.0" y2="121.30" stroke="#f00"/>
<line x1="44.55" y1="101.42" x2="250.0" y2="101.42" stroke="#000"/>
</g>
<g clip-path="url(#ch)">
<path d="M255.40,0L255.40,16.22L256.31,16.22L256.31,27.31L256.77,27.31L256.77,38.40L259.50,38.40L259.50,49.49L260.87,49.49L260.87,60.58L272.27,60.58L272.27,71.67L293.25,71.67L293.25,82.76L321.98,82.76L321.98,93.85L342.95,93.85L342.95,104.94L327.45,104.94L327.45,116.03L301.00,116.03L301.00,127.12L272.73,127.12L272.73,138.21L264.98,138.21L264.98,149.30L260.87,149.30L260.87,160.39L258.59,160.39L258.59,171.48L259.05,171.48L259.05,182.57L256.31,182.57L256.31,193.66L256.31,193.66L256.31,204.75L255.86,204.75L255.86,215.84L255.40,215.84" fill="none" stroke="#000" stroke-width="1.5" stroke-linejoin="miter"/>
<g stroke-width="1.0" stroke-dasharray="3.55 1.55" fill="none">
<line x1="255.4" y1="81.47" x2="346.6" y2="81.47" stroke="#f00"/>
<line x1="255.4" y1="121.30" x2="346.6" y2="121.30" stroke="#f00"/>
<line x1="255.4" y1="101.42" x2="346.6" y2="101.42" stroke="#000"/>
</g></g>
<g fill="none" stroke="#000" stroke-width="0.6">
<rect x="38.5" y="4.5" width="216.9" height="209.9"/>
<rect x="255.4" y="4.5" width="95.29999999999998" height="209.9"/>
</g>
<g stroke="#000" stroke-width="0.6"><line x1="35.70" y1="28.70" x2="38.50" y2="28.70"/><line x1="252.60" y1="28.70" x2="255.40" y2="28.70"/><line x1="35.70" y1="63.10" x2="38.50" y2="63.10"/><line x1="252.60" y1="63.10" x2="255.40" y2="63.10"/><line x1="35.70" y1="97.50" x2="38.50" y2="97.50"/><line x1="252.60" y1="97.50" x2="255.40" y2="97.50"/><line x1="35.70" y1="131.90" x2="38.50" y2="131.90"/><line x1="252.60" y1="131.90" x2="255.40" y2="131.90"/><line x1="35.70" y1="166.30" x2="38.50" y2="166.30"/><line x1="252.60" y1="166.30" x2="255.40" y2="166.30"/><line x1="35.70" y1="200.70" x2="38.50" y2="200.70"/><line x1="252.60" y1="200.70" x2="255.40" y2="200.70"/><line x1="64.00" y1="214.40" x2="64.00" y2="217.20"/><line x1="94.16" y1="214.40" x2="94.16" y2="217.20"/><line x1="124.32" y1="214.40" x2="124.32" y2="217.20"/><line x1="154.48" y1="214.40" x2="154.48" y2="217.20"/><line x1="184.64" y1="214.40" x2="184.64" y2="217.20"/><line x1="214.80" y1="214.40" x2="214.80" y2="217.20"/><line x1="244.96" y1="214.40" x2="244.96" y2="217.20"/><line x1="255.40" y1="214.40" x2="255.40" y2="217.20"/><line x1="301.00" y1="214.40" x2="301.00" y2="217.20"/><line x1="346.60" y1="214.40" x2="346.60" y2="217.20"/></g>
<g font-size="7.2" fill="#000" stroke="#000" stroke-width="0.25"><text transform="translate(34.00,31.40) scale(1.12,1)" text-anchor="end">1.0</text><text transform="translate(34.00,65.80) scale(1.12,1)" text-anchor="end">0.5</text><text transform="translate(34.00,100.20) scale(1.12,1)" text-anchor="end">0.0</text><text transform="translate(34.00,134.60) scale(1.12,1)" text-anchor="end">−0.5</text><text transform="translate(34.00,169.00) scale(1.12,1)" text-anchor="end">−1.0</text><text transform="translate(34.00,203.40) scale(1.12,1)" text-anchor="end">−1.5</text><text transform="translate(64.00,224.00) scale(1.12,1)" text-anchor="middle">3.0</text><text transform="translate(94.16,224.00) scale(1.12,1)" text-anchor="middle">3.2</text><text transform="translate(124.32,224.00) scale(1.12,1)" text-anchor="middle">3.4</text><text transform="translate(154.48,224.00) scale(1.12,1)" text-anchor="middle">3.6</text><text transform="translate(184.64,224.00) scale(1.12,1)" text-anchor="middle">3.8</text><text transform="translate(214.80,224.00) scale(1.12,1)" text-anchor="middle">4.0</text><text transform="translate(244.96,224.00) scale(1.12,1)" text-anchor="middle">4.2</text><text transform="translate(255.40,224.00) scale(1.12,1)" text-anchor="middle">0</text><text transform="translate(301.00,224.00) scale(1.12,1)" text-anchor="middle">100</text><text transform="translate(346.60,224.00) scale(1.12,1)" text-anchor="middle">200</text></g>
<g transform="translate(146.65,235.0) scale(1.066,1)"><text font-size="10.4" class="lab" text-anchor="middle">CMD log(<tspan font-style="italic">Mass</tspan>/<tspan font-style="italic">M</tspan><tspan dx="5.805">)</tspan></text><circle cx="38.30" cy="-0.25" r="1.95" fill="none" stroke="#000" stroke-width="0.55"/><circle cx="38.30" cy="-0.25" r="0.55" fill="#000"/></g>
<g transform="translate(12.6,109.5) rotate(-90) scale(1.066,1)"><text font-size="10.4" class="lab" text-anchor="middle">IL - CMD log(<tspan font-style="italic">Mass</tspan>/<tspan font-style="italic">M</tspan><tspan dx="5.805">)</tspan></text><circle cx="47.00" cy="-0.25" r="1.95" fill="none" stroke="#000" stroke-width="0.55"/><circle cx="47.00" cy="-0.25" r="0.55" fill="#000"/></g>
<g>
<rect x="298.4" y="8.3" width="49" height="20.1" rx="1.5" fill="#fff" fill-opacity="0.8" stroke="#ccc" stroke-width="0.6"/>
<g stroke-width="1.0" stroke-dasharray="3.55 1.55"><line x1="300.8" y1="13.1" x2="313.9" y2="13.1" stroke="#000"/><line x1="300.8" y1="22.6" x2="313.9" y2="22.6" stroke="#f00"/></g>
<g font-size="6.7" stroke="#000" stroke-width="0.1"><text transform="translate(318.8,15.6) scale(1.08,1)">Median</text><text transform="translate(318.8,24.6) scale(1.08,1)">1 Sigma</text></g>
</g>
</svg>
</body></html>
